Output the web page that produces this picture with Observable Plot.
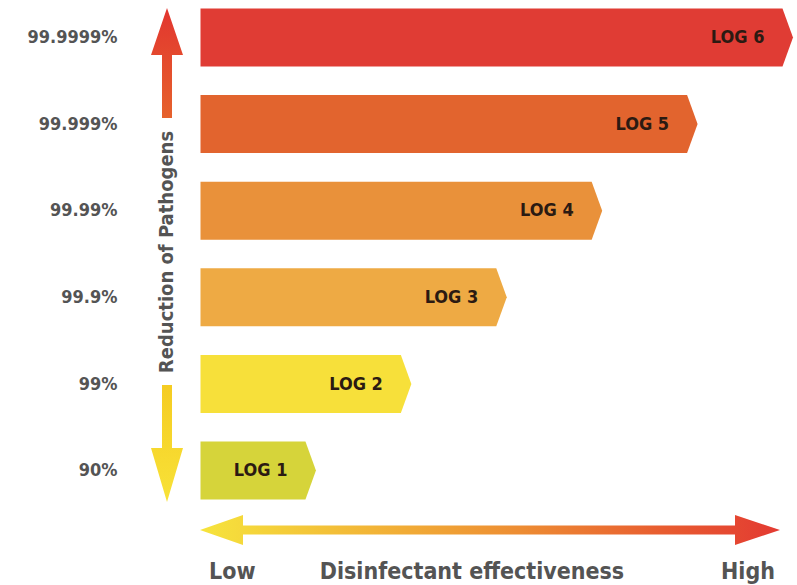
<!DOCTYPE html>
<html>
<head>
<meta charset="utf-8">
<script src="https://cdn.jsdelivr.net/npm/d3@7"></script>
<script src="https://cdn.jsdelivr.net/npm/@observablehq/plot@0.6"></script>
<style>
  html, body { margin: 0; padding: 0; background: #fff; }
  #chart svg { display: block; }
</style>
</head>
<body>
<div id="chart"></div>
<script>
// ---- data ----
const logs = [1, 2, 3, 4, 5, 6];
const reductions = ["90%", "99%", "99.9%", "99.99%", "99.999%", "99.9999%"];
const barLabels = ["LOG 1", "LOG 2", "LOG 3", "LOG 4", "LOG 5", "LOG 6"];
const barColors = ["#d6d43a", "#f7e03a", "#eeaa44", "#e9913a", "#e2642e", "#e03c34"];
const yAxisTitle = "Reduction of Pathogens";
const xAxisTitle = "Disinfectant effectiveness";
const xEnds = ["Low", "High"];

const FONT = "'Liberation Sans Narrow','DejaVu Sans Condensed','Roboto Condensed','Liberation Sans',sans-serif";
const TEXT = "#545454";

// shape parameters (in data units)
const base = -0.1, half = 0.335, tip = 0.11;

const bars = logs.map((v, i) => ({v, label: barLabels[i], color: barColors[i]}));
const polys = bars.flatMap((b, i) =>
  [[base, b.v + half], [b.v, b.v + half], [b.v + tip, b.v], [b.v, b.v - half], [base, b.v - half]]
    .map(([x, y]) => ({x, y, z: i, color: b.color})));

const plot = Plot.plot({
  width: 797,
  height: 585,
  marginLeft: 200,
  marginRight: 15,
  marginTop: 37,
  marginBottom: 115,
  x: {domain: [base, 6], axis: null},
  y: {domain: [1, 6], axis: null},
  color: {type: "identity"},
  style: {fontFamily: FONT, overflow: "visible", background: "#fff"},
  marks: [
    Plot.line(polys, {x: "x", y: "y", z: "z", fill: "color", stroke: "none", curve: "linear"}),
    Plot.text(bars, {x: "v", y: "v", text: "label", textAnchor: "end", dx: -18, fontSize: 18, fontWeight: "bold", fill: "#2b1a12"}),
    Plot.axisY({ticks: logs, tickFormat: d => reductions[d - 1], tickSize: 0, tickPadding: 83,
                fontSize: 18, fontWeight: "bold", fill: TEXT, label: null, anchor: "left"})
  ]
});
document.getElementById("chart").appendChild(plot);

// ---- decorations (arrows + titles) ----
const svg = d3.select(plot);
const defs = svg.insert("defs", ":first-child");
const vUp = defs.append("linearGradient").attr("id", "vUp").attr("gradientUnits", "userSpaceOnUse")
  .attr("x1", 0).attr("y1", 8).attr("x2", 0).attr("y2", 118);
vUp.append("stop").attr("offset", 0).attr("stop-color", "#e2352f");
vUp.append("stop").attr("offset", 1).attr("stop-color", "#e6622c");
const vDown = defs.append("linearGradient").attr("id", "vDown").attr("gradientUnits", "userSpaceOnUse")
  .attr("x1", 0).attr("y1", 385).attr("x2", 0).attr("y2", 502);
vDown.append("stop").attr("offset", 0).attr("stop-color", "#f5cc22");
vDown.append("stop").attr("offset", 1).attr("stop-color", "#f8e238");
const hGrad = defs.append("linearGradient").attr("id", "hGrad").attr("gradientUnits", "userSpaceOnUse")
  .attr("x1", 200).attr("y1", 0).attr("x2", 780).attr("y2", 0);
[[0, "#f6e43c"], [0.3, "#f2b437"], [0.55, "#ed8d33"], [0.8, "#e85c30"], [1, "#e33a32"]]
  .forEach(([o, c]) => hGrad.append("stop").attr("offset", o).attr("stop-color", c));

const g = svg.append("g");
g.append("path").attr("d", "M167,8 L183,55 L172,55 L172,118 L162,118 L162,55 L151,55 Z").attr("fill", "url(#vUp)");
g.append("path").attr("d", "M162,385 L172,385 L172,448 L183,448 L167,502 L151,448 L162,448 Z").attr("fill", "url(#vDown)");
g.append("path").attr("d", "M200,530 L243,515 L243,525.5 L735,525.5 L735,515 L780,530 L735,545 L735,534.5 L243,534.5 L243,545 Z").attr("fill", "url(#hGrad)");

g.append("text").attr("transform", "translate(173,252) rotate(-90)").attr("text-anchor", "middle")
  .attr("font-size", 20).attr("font-weight", "bold").attr("fill", TEXT).attr("font-family", FONT).text(yAxisTitle);
g.append("text").attr("x", 209).attr("y", 579).attr("text-anchor", "start")
  .attr("font-size", 23).attr("font-weight", "bold").attr("fill", TEXT).attr("font-family", FONT).text(xEnds[0]);
g.append("text").attr("x", 472).attr("y", 579).attr("text-anchor", "middle")
  .attr("font-size", 23).attr("font-weight", "bold").attr("fill", TEXT).attr("font-family", FONT).text(xAxisTitle);
g.append("text").attr("x", 775).attr("y", 579).attr("text-anchor", "end")
  .attr("font-size", 23).attr("font-weight", "bold").attr("fill", TEXT).attr("font-family", FONT).text(xEnds[1]);
</script>
</body>
</html>
